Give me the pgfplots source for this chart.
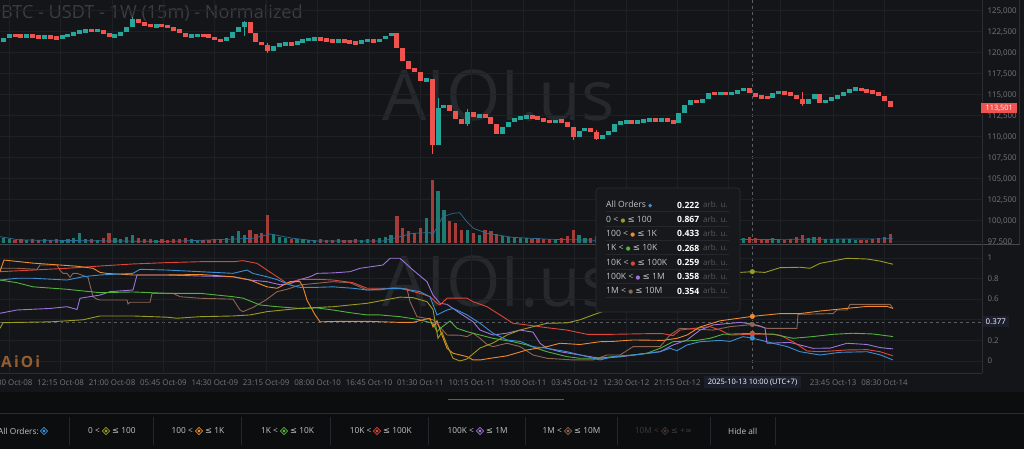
\documentclass[border=0pt]{standalone}
\usepackage{pgfplots}
\pgfplotsset{compat=1.18}
\usepackage{pgfplotstable}
\usepackage{fontspec}
\setmainfont{Open Sans}
\newfontfamily\symfont{DejaVu Sans}

\definecolor{bg}{HTML}{131518}
\definecolor{bgdark}{HTML}{0C0D0E}
\definecolor{gridc}{HTML}{1D2024}
\definecolor{sepc}{HTML}{2A2D31}
\definecolor{sepl}{HTML}{45484C}
\definecolor{tickc}{HTML}{74777C}
\definecolor{titlec}{HTML}{3A3D41}
\definecolor{wmc}{HTML}{25282C}
\definecolor{xh}{HTML}{5A5D62}
\definecolor{cup}{HTML}{26A69A}
\definecolor{cdn}{HTML}{EF5350}
\definecolor{vup}{HTML}{1F7A72}
\definecolor{vdn}{HTML}{A63C3A}
\definecolor{vma}{HTML}{2D6C96}
\definecolor{sAll}{HTML}{3B8FD4}
\definecolor{sA}{HTML}{9B9B22}
\definecolor{sB}{HTML}{F08A2C}
\definecolor{sC}{HTML}{52B33C}
\definecolor{sD}{HTML}{E0453A}
\definecolor{sE}{HTML}{9D74DA}
\definecolor{sF}{HTML}{8E6553}
\definecolor{tipbg}{HTML}{16181B}
\definecolor{tipbd}{HTML}{2C2F33}
\definecolor{tipsep}{HTML}{24272B}
\definecolor{legtxt}{HTML}{C3C5C8}
\definecolor{dimtxt}{HTML}{3A3C40}
\definecolor{arbc}{HTML}{55585D}
\definecolor{xhbox}{HTML}{1B1F2D}
\definecolor{logoc}{HTML}{965F32}

\newcommand\ticksize{\fontsize{7.9}{9}\selectfont}
\newcommand\tipsize{\fontsize{8.6}{10}\selectfont}
\newcommand\legsize{\fontsize{8.3}{10}\selectfont}
\newcommand\lte{{\symfont ≤}}
\newcommand\tdot[1]{{\symfont\fontsize{5.5}{5}\selectfont\textcolor{#1}{●}}}
\newcommand\tdia[1]{{\symfont\fontsize{5.5}{5}\selectfont\textcolor{#1}{◆}}}
\newcommand\legdia[2]{%
  \draw[#2, line width=0.7pt] (#1,21.6) -- (#1+3.6,18) -- (#1,14.4) -- (#1-3.6,18) -- cycle;
  \fill[#2] (#1,19.7) -- (#1+1.7,18) -- (#1,16.3) -- (#1-1.7,18) -- cycle;}

% hourly BTC-USDT candles (price in thousands), volume in bar height units
\pgfplotstableread{
t o c v
2 121.2 121.3 4
3 121.3 121.8 5
4 121.8 122.1 4
5 122.1 122.0 3
6 122.0 121.9 4
7 121.9 122.0 3
8 122.0 121.9 4
9 121.9 121.8 3
10 121.8 121.9 4
11 121.9 121.8 3
12 121.8 121.7 4
13 121.7 122.0 3
14 122.0 122.1 4
15 122.1 122.4 5
16 122.4 122.5 10
17 122.5 122.7 4
18 122.7 122.6 4
19 122.6 122.7 3
20 122.7 122.3 5
21 122.3 121.9 10
22 121.9 122.0 5
23 122.0 122.5 4
24 122.5 123.0 6
25 123.0 124.0 8
26 124.0 123.5 5
27 123.5 123.4 4
28 123.4 123.1 4
29 123.1 123.3 3
30 123.3 123.2 4
31 123.2 123.0 3
32 123.0 122.7 4
33 122.7 122.4 4
34 122.4 121.9 5
35 121.9 122.0 4
36 122.0 122.1 3
37 122.1 122.0 3
38 122.0 121.9 3
39 121.9 121.5 4
40 121.5 121.4 4
41 121.4 121.8 5
42 121.8 122.5 7
43 122.5 123.1 12
44 123.1 123.6 8
45 123.6 122.4 13
46 122.4 121.3 9
47 121.3 120.9 10
48 120.9 120.2 28
49 120.2 120.8 9
50 120.8 121.0 6
51 121.0 121.1 5
52 121.1 121.0 4
53 121.0 121.3 4
54 121.3 121.5 4
55 121.5 121.6 3
56 121.6 121.7 3
57 121.7 121.6 4
58 121.6 121.4 3
59 121.4 121.3 3
60 121.3 121.4 4
61 121.4 121.3 3
62 121.3 121.2 3
63 121.2 121.1 4
64 121.1 121.4 3
65 121.4 121.5 4
66 121.5 121.3 4
67 121.3 121.6 5
68 121.6 122.0 6
69 122.0 122.3 8
70 122.3 120.5 27
71 120.5 119.0 15
72 119.0 118.1 12
73 118.1 117.7 10
74 117.7 116.6 15
75 116.6 116.9 25
76 116.9 109.0 63
77 109.0 113.4 52
78 113.4 113.8 33
79 113.8 113.0 22
80 113.0 112.1 20
81 112.1 111.5 13
82 111.5 112.9 13
83 112.9 112.3 10
84 112.3 112.6 8
85 112.6 112.4 13
86 112.4 111.5 12
87 111.5 110.3 9
88 110.3 111.2 7
89 111.2 111.8 6
90 111.8 112.1 6
91 112.1 112.3 5
92 112.3 112.4 5
93 112.4 112.3 4
94 112.3 112.1 5
95 112.1 111.9 4
96 111.9 111.7 4
97 111.7 111.9 4
98 111.9 111.8 5
99 111.8 111.2 7
100 111.2 110.0 13
101 110.0 110.7 8
102 110.7 111.0 5
103 111.0 110.6 5
104 110.6 109.7 7
105 109.7 110.2 5
106 110.2 110.6 4
107 110.6 111.5 5
108 111.5 111.7 4
109 111.7 111.8 3
110 111.8 111.7 4
111 111.7 111.8 3
112 111.8 111.9 3
113 111.9 112.0 3
114 112.0 111.9 4
115 111.9 112.0 3
116 112.0 111.9 3
117 111.9 111.6 4
118 111.6 112.8 8
119 112.8 113.8 6
120 113.8 114.4 5
121 114.4 114.0 4
122 114.0 114.5 5
123 114.5 115.2 6
124 115.2 115.1 4
125 115.1 115.2 4
126 115.2 115.1 3
127 115.1 115.2 4
128 115.2 115.4 4
129 115.4 115.8 5
130 115.8 115.2 6
131 115.2 114.8 5
132 114.8 114.7 4
133 114.7 114.6 4
134 114.6 115.2 5
135 115.2 115.3 4
136 115.3 115.1 3
137 115.1 115.0 4
138 115.0 114.5 6
139 114.5 113.9 8
140 113.9 114.5 5
141 114.5 115.1 6
142 115.1 114.0 6
143 114.0 114.4 4
144 114.4 114.6 4
145 114.6 114.8 4
146 114.8 115.3 4
147 115.3 115.6 4
148 115.6 115.7 3
149 115.7 115.5 3
150 115.5 115.4 3
151 115.4 115.2 4
152 115.2 114.9 5
153 114.9 114.3 6
154 114.3 113.5 9
}\price

\pgfplotsset{panel/.style={
  anchor=south west, scale only axis, width=982pt, xmin=1.93, xmax=169.1,
  axis line style={draw=none}, major tick length=0pt,
  grid=major, grid style={draw=gridc, line width=0.7pt},
  xtick={3.5,12.25,21,29.75,38.5,47.25,56,64.75,73.5,82.25,91,99.75,108.5,117.25,126,134.75,143.75,152.5},
  yticklabel pos=right,
  tick label style={font=\ticksize, text=tickc},
  yticklabel style={anchor=west, xshift=2pt},
}}

\begin{document}
\begin{tikzpicture}[x=1pt,y=1pt]
\fill[bg] (0,0) rectangle (1024,449);
\fill[bgdark] (0,0) rectangle (1024,57);
\draw[sepc, line width=0.6pt] (0,36) -- (1024,36);

% title and watermarks
\node[anchor=base west, inner sep=0, text=titlec, font=\fontsize{18.1}{20}\selectfont] at (1,430.5) {BTC - USDT - 1W (15m) - Normalized};
\node[anchor=base west, inner sep=0, text=wmc, font=\fontsize{70}{70}\selectfont] at (382,328) {AIOI.us};
\node[anchor=base west, inner sep=0, text=wmc, font=\fontsize{70}{70}\selectfont] at (382,142) {AIOI.us};

% crosshair
\draw[xh, line width=0.6pt, dash pattern=on 3pt off 3pt] (752.3,449) -- (752.3,77);
\draw[xh, line width=0.6pt, dash pattern=on 3pt off 3pt] (0,127) -- (982,127);

% price panel
\begin{axis}[panel, at={(0pt,204.5pt)}, height=244.5pt,
  ymin=97.17, ymax=126.27,
  ytick={97.5,100,102.5,105,107.5,110,112.5,115,117.5,120,122.5,125},
  yticklabels={{97,500},{100,000},{102,500},{105,000},{107,500},{110,000},{112,500},{115,000},{117,500},{120,000},{122,500},{125,000}},
  xticklabel style={text opacity=0},
]
\addplot[draw=none, forget plot, error bars/.cd, y dir=both, y explicit, error mark=none,
  error bar style={draw=cdn, line width=0.8pt}]
  coordinates {(75.5,112.4) +- (0,4.5) (47.5,120.6) +- (0,0.6) (99.5,110.4) +- (0,0.8) (103.5,110.2) +- (0,0.6) (138.5,114.5) +- (0,0.8)};
\addplot[draw=none, forget plot, error bars/.cd, y dir=both, y explicit, error mark=none,
  error bar style={draw=cup, line width=0.8pt}]
  coordinates {(76.5,111.8) +- (0,2.8) (43.5,122.9) +- (0,0.9) (24.5,123.6) +- (0,0.6) (81.5,112.3) +- (0,1.0)};
\addplot[draw=none, forget plot, restrict y to domain=90:130,
  error bars/.cd, y dir=both, y explicit, error mark=none,
  error bar style={draw=cup, line width=5pt}]
  table[x expr=\thisrow{t}-0.5, y expr={\thisrow{c}>=\thisrow{o} ? (\thisrow{o}+\thisrow{c})/2 : 0},
        y error expr={max(abs(\thisrow{c}-\thisrow{o})/2,0.22)}] {\price};
\addplot[draw=none, forget plot, restrict y to domain=90:130,
  error bars/.cd, y dir=both, y explicit, error mark=none,
  error bar style={draw=cdn, line width=5pt}]
  table[x expr=\thisrow{t}-0.5, y expr={\thisrow{c}<\thisrow{o} ? (\thisrow{o}+\thisrow{c})/2 : 0},
        y error expr={max(abs(\thisrow{c}-\thisrow{o})/2,0.22)}] {\price};
\end{axis}

% volume overlay
\begin{axis}[anchor=south west, at={(0pt,205.7pt)}, scale only axis, width=982pt, height=243.3pt,
  xmin=1.93, xmax=169.1, ymin=0, ymax=243.3, hide axis]
\addplot[ycomb, draw=vup, line width=3.2pt] table[x expr=\thisrow{t}-0.5, y expr={\thisrow{c}>=\thisrow{o} ? \thisrow{v} : 0}] {\price};
\addplot[ycomb, draw=vdn, line width=3.2pt] table[x expr=\thisrow{t}-0.5, y expr={\thisrow{c}<\thisrow{o} ? \thisrow{v} : 0}] {\price};
\addplot[vma, line width=0.7pt] coordinates {(1.93,6.6)(5.3,3.3)(15.55,2.7)(30.36,1.8)(45.0,5)(47.9,9.3)(51.8,5)(55.9,2.3)(67.1,2.3)(70.0,6.6)(72.2,10)(75.1,10.7)(75.6,8.3)(77.3,26.6)(79.05,30)(80.2,30.6)(81.4,21.6)(82.5,15)(84.8,10)(89.1,6)(95.6,4)(104.1,3)(121.1,3.5)(138.1,4)(153.95,4.5)};
\end{axis}

% normalized order-size panel
\begin{axis}[panel, at={(0pt,77pt)}, height=127.5pt,
  ymin=-0.107, ymax=1.131,
  ytick={0,0.2,0.4,0.6,0.8,1}, yticklabels={0,0.2,{},0.6,0.8,1},
  xticklabels={03:30 Oct-08,12:15 Oct-08,21:00 Oct-08,05:45 Oct-09,14:30 Oct-09,23:15 Oct-09,08:00 Oct-10,16:45 Oct-10,01:30 Oct-11,10:15 Oct-11,19:00 Oct-11,03:45 Oct-12,12:30 Oct-12,21:15 Oct-12,{},{},23:45 Oct-13,08:30 Oct-14},
  xticklabel style={anchor=base, yshift=-13.5pt},
]
\addplot[sF, line width=0.9pt] coordinates {(1.93,0.90)(4.82,0.90)(8.23,0.89)(8.74,0.932)(11.63,0.932)(12.14,0.88)(12.66,0.851)(13.34,0.851)(13.85,0.812)(14.36,0.851)(15.04,0.851)(16.91,0.812)(17.42,0.70)(17.76,0.624)(18.44,0.60)(18.95,0.592)(23.55,0.592)(23.72,0.553)(24.06,0.57)(27.47,0.57)(27.81,0.657)(31.38,0.657)(32.57,0.624)(35.98,0.609)(41.60,0.60)(42.79,0.495)(43.30,0.479)(45.0,0.52)(46.70,0.576)(47.38,0.60)(49.09,0.673)(50.79,0.696)(53.00,0.738)(58.62,0.77)(61.51,0.76)(64.41,0.689)(66.62,0.69)(68.83,0.71)(71.22,0.70)(71.73,0.576)(72.92,0.43)(73.94,0.42)(75.64,0.40)(76.49,0.35)(78.03,0.252)(80.24,0.25)(81.43,0.236)(82.45,0.27)(83.65,0.22)(84.84,0.16)(85.86,0.139)(88.24,0.172)(90.45,0.14)(92.67,0.058)(95.05,0.026)(99.48,0.01)(102.88,0.01)(105.26,0.058)(107.48,0.058)(109.69,0.139)(114.29,0.139)(115.99,0.252)(117.69,0.317)(123.31,0.30)(126.21,0.333)(130,0.354)(132.50,0.317)(137.59,0.317)(137.78,0.453)(143.74,0.46)(144.42,0.495)(146.12,0.495)(146.63,0.55)(153.44,0.55)(153.95,0.51)};
\addplot[sE, line width=0.9pt] coordinates {(1.93,0.463)(4.82,0.495)(10.44,0.51)(13.34,0.527)(15.04,0.50)(15.55,0.609)(18.95,0.64)(20.66,0.673)(24.57,0.689)(25.25,0.835)(30.36,0.835)(35.98,0.825)(41.60,0.818)(44.49,0.786)(47.38,0.77)(49.60,0.74)(51.30,0.75)(53.00,0.79)(54.70,0.818)(55.90,0.851)(58.62,0.855)(61.51,0.867)(63.22,0.90)(67.13,0.932)(68.32,0.997)(70.03,0.997)(72.24,0.883)(74.62,0.77)(75.64,0.64)(76.84,0.56)(78.03,0.55)(80.24,0.463)(82.45,0.382)(83.65,0.30)(85.86,0.252)(88.24,0.27)(90.45,0.30)(92.67,0.28)(93.86,0.172)(95.05,0.123)(97.26,0.09)(100.67,0.058)(104.07,0.026)(107.48,0.04)(110.88,0.065)(114.29,0.09)(116.50,0.155)(118.88,0.204)(121.10,0.30)(123.31,0.35)(127.91,0.375)(130,0.358)(131.31,0.34)(132.16,0.32)(132.50,0.172)(136.42,0.18)(140.33,0.123)(143.23,0.125)(146.12,0.172)(149.53,0.16)(151.74,0.13)(153.95,0.117)};
\addplot[sD, line width=0.9pt] coordinates {(1.93,0.867)(7.55,0.883)(13.34,0.90)(18.95,0.922)(24.57,0.942)(30.36,0.955)(35.98,0.964)(41.60,0.964)(43.30,0.974)(45.68,0.948)(47.38,0.883)(49.09,0.818)(50.79,0.754)(53.00,0.793)(55.90,0.793)(58.62,0.786)(62.02,0.76)(64.41,0.706)(70.03,0.706)(73.43,0.657)(75.13,0.624)(76.32,0.56)(76.84,0.544)(78.03,0.61)(81.43,0.61)(82.45,0.576)(84.84,0.527)(87.05,0.447)(89.26,0.366)(91.64,0.35)(95.05,0.323)(98.45,0.30)(101.86,0.259)(106.29,0.259)(112.07,0.265)(114.80,0.265)(116.50,0.246)(117.69,0.30)(120.59,0.32)(122.80,0.333)(124.50,0.30)(126.21,0.252)(130,0.259)(133.52,0.26)(134.72,0.25)(136.93,0.187)(139.31,0.097)(141.53,0.09)(146.12,0.107)(149.53,0.11)(151.74,0.09)(153.95,0.05)};
\addplot[sC, line width=0.9pt] coordinates {(1.93,0.786)(4.82,0.76)(7.55,0.72)(13.34,0.696)(16.06,0.68)(18.95,0.663)(24.57,0.67)(30.36,0.657)(35.98,0.657)(38.87,0.64)(41.60,0.624)(43.30,0.61)(46.19,0.544)(49.09,0.527)(53.00,0.51)(55.90,0.515)(58.62,0.495)(61.51,0.469)(64.41,0.447)(66.62,0.447)(70.03,0.43)(73.43,0.40)(75.64,0.366)(76.32,0.285)(77.17,0.33)(78.03,0.366)(78.54,0.388)(79.73,0.317)(81.43,0.285)(83.65,0.252)(85.86,0.22)(89.26,0.187)(91.64,0.155)(95.05,0.09)(98.45,0.042)(100.67,0.026)(103.56,0.026)(106.29,0.042)(109.69,0.058)(112.07,0.075)(114.29,0.123)(116.50,0.187)(120.59,0.2)(122.80,0.22)(125.01,0.259)(130,0.268)(133.52,0.26)(136.93,0.22)(140.33,0.237)(143.74,0.259)(147.14,0.269)(150.55,0.262)(153.95,0.237)};
\addplot[sB, line width=0.9pt] coordinates {(1.93,0.87)(2.61,0.98)(7.55,0.95)(15.04,0.92)(17.76,0.90)(18.95,0.86)(20.15,0.85)(24.57,0.835)(30.36,0.835)(35.98,0.84)(41.60,0.818)(44.49,0.786)(47.38,0.72)(49.09,0.706)(51.30,0.77)(53.00,0.77)(53.51,0.72)(54.19,0.59)(55.55,0.45)(56.41,0.38)(59.81,0.385)(64.41,0.385)(70.03,0.375)(72.24,0.375)(73.94,0.40)(75.13,0.414)(75.64,0.33)(76.32,0.39)(77.17,0.25)(78.03,0.123)(79.05,0.075)(81.43,0.042)(82.45,0.01)(83.65,0.01)(85.86,0.03)(88.24,0.05)(91.64,0.107)(95.05,0.139)(97.26,0.172)(100.67,0.16)(104.07,0.187)(106.29,0.19)(109.69,0.204)(114.80,0.20)(117.18,0.22)(118.88,0.252)(121.10,0.33)(124.50,0.39)(130,0.433)(134.72,0.46)(138.12,0.46)(141.53,0.485)(146.12,0.511)(149.53,0.53)(152.93,0.53)(153.95,0.51)};
\addplot[sA, line width=0.9pt] coordinates {(1.93,0.317)(2.44,0.372)(10.44,0.38)(13.34,0.39)(16.06,0.40)(18.95,0.437)(24.57,0.437)(30.36,0.425)(32.06,0.415)(35.98,0.43)(41.60,0.437)(44.49,0.447)(47.38,0.479)(53.00,0.511)(58.62,0.527)(64.41,0.56)(70.03,0.62)(72.24,0.615)(74.62,0.576)(75.64,0.5)(76.49,0.22)(77.17,0.28)(78.03,0.155)(79.05,0.026)(80.24,0.0)(81.43,0.02)(83.65,0.126)(85.86,0.175)(88.24,0.252)(90.45,0.30)(92.67,0.333)(95.05,0.366)(98.45,0.37)(100.67,0.40)(102.88,0.447)(105.26,0.495)(107.48,0.55)(112.59,0.65)(117.69,0.74)(122.80,0.81)(127.91,0.86)(130,0.867)(132.16,0.86)(134.72,0.906)(138.12,0.91)(139.82,0.9)(141.53,0.948)(146.12,0.997)(149.53,0.99)(151.74,0.97)(153.95,0.939)};
\addplot[sAll, line width=0.9pt] coordinates {(1.93,0.786)(4.82,0.803)(7.55,0.803)(13.34,0.786)(16.06,0.818)(18.95,0.835)(24.57,0.851)(25.76,0.89)(30.36,0.883)(35.98,0.867)(41.60,0.851)(43.98,0.883)(45.0,0.85)(47.38,0.818)(49.09,0.79)(51.30,0.738)(53.00,0.715)(55.90,0.715)(58.62,0.72)(62.02,0.706)(64.41,0.689)(67.13,0.70)(70.03,0.706)(73.43,0.673)(75.13,0.624)(76.32,0.447)(78.03,0.495)(79.05,0.51)(80.24,0.48)(81.43,0.447)(83.65,0.366)(85.86,0.269)(88.24,0.204)(90.45,0.19)(92.67,0.139)(95.05,0.123)(98.45,0.09)(101.86,0.042)(104.07,0.01)(106.29,0.042)(109.69,0.058)(112.07,0.075)(114.29,0.09)(115.99,0.123)(117.18,0.10)(118.88,0.155)(121.10,0.187)(124.50,0.2)(126.21,0.19)(128.42,0.236)(130,0.222)(133.52,0.172)(135.91,0.14)(138.12,0.09)(141.53,0.058)(144.93,0.084)(149.53,0.09)(151.74,0.06)(153.95,0.01)};
% crosshair markers at 2025-10-13 10:00
\addplot[only marks, mark=*, mark size=2.3pt, color=sA] coordinates {(130,0.867)};
\addplot[only marks, mark=*, mark size=2.3pt, color=sB] coordinates {(130,0.433)};
\addplot[only marks, mark=*, mark size=2.3pt, color=sF] coordinates {(130,0.354)};
\addplot[only marks, mark=*, mark size=2.3pt, color=sC] coordinates {(130,0.268)};
\addplot[only marks, mark=*, mark size=2.3pt, color=sD] coordinates {(130,0.259)};
\addplot[only marks, mark=*, mark size=2.3pt, color=sAll] coordinates {(130,0.222)};
\end{axis}

% AiOi logo
\node[anchor=base west, inner sep=0, text=logoc, font=\fontsize{15.5}{16}\bfseries\selectfont\addfontfeature{LetterSpace=14}] at (1,81.5) {AiOi};

% separators
\draw[sepl, line width=0.8pt] (0,204.5) -- (1020,204.5);
\draw[sepc, line width=0.6pt] (982,449) -- (982,76);
\draw[sepc, line width=0.6pt] (1019.5,449) -- (1019.5,204.5);
\draw[sepc, line width=0.6pt] (0,76) -- (982,76);

% right side value labels
\node[fill=cdn, text=white, inner sep=0, minimum width=36pt, minimum height=10pt, anchor=west, font=\fontsize{7.4}{8}\selectfont] at (981,341) {113,501};
\node[fill=xhbox, text=white, inner sep=0, minimum width=26pt, minimum height=11pt, anchor=west, font=\ticksize] at (982.5,127) {0.377};
\node[fill=xhbox, text=white, inner sep=0, minimum width=97pt, minimum height=12pt, font=\fontsize{7.5}{9}\selectfont] at (752.5,66.5) {2025-10-13 10:00 (UTC+7)};

% tooltip
\draw[fill=tipbg, draw=tipbd, line width=0.6pt, rounded corners=3pt] (596,261) rectangle (740,137);
\foreach \yy in {237.3,223,208.7,194.4,180,165.7,151.3} {\draw[tipsep, line width=0.6pt] (606,\yy) -- (729,\yy);}
\begin{scope}[every node/.style={inner sep=0, font=\tipsize}]
\node[anchor=west, text=legtxt] at (606,244) {All Orders \tdia{sAll}};
\node[anchor=west, text=legtxt] at (606,229.7) {0 < \tdot{sA} \lte{} 100};
\node[anchor=west, text=legtxt] at (606,215.3) {100 < \tdot{sB} \lte{} 1K};
\node[anchor=west, text=legtxt] at (606,201) {1K < \tdot{sC} \lte{} 10K};
\node[anchor=west, text=legtxt] at (606,186.7) {10K < \tdot{sD} \lte{} 100K};
\node[anchor=west, text=legtxt] at (606,172.3) {100K < \tdot{sE} \lte{} 1M};
\node[anchor=west, text=legtxt] at (606,158) {1M < \tdot{sF} \lte{} 10M};
\foreach \yy/\vv in {244/0.222,229.7/0.867,215.3/0.433,201/0.268,186.7/0.259,172.3/0.358,158/0.354} {
  \node[anchor=east, text=white, font=\tipsize\bfseries] at (699.5,\yy) {\vv};
  \node[anchor=west, text=arbc, font=\fontsize{8}{9}\selectfont] at (703,\yy) {arb. u.};
}
\end{scope}

% bottom legend bar
\draw[xh, line width=1pt] (448,49) -- (564,49);
\foreach \xx in {69,153,241,330,428,525,617,710,775} {\draw[tipsep, line width=0.6pt] (\xx,32) -- (\xx,4);}
\begin{scope}[every node/.style={inner sep=0, font=\legsize, text=legtxt}]
\node[anchor=west] at (-2,18) {All Orders:};
\legdia{44}{sAll}
\node[anchor=east] at (100,18) {0 <}; \legdia{106}{sA} \node[anchor=west] at (112,18) {\lte{} 100};
\node[anchor=east] at (193,18) {100 <}; \legdia{199}{sB} \node[anchor=west] at (205,18) {\lte{} 1K};
\node[anchor=east] at (278,18) {1K <}; \legdia{284}{sC} \node[anchor=west] at (290,18) {\lte{} 10K};
\node[anchor=east] at (371.5,18) {10K <}; \legdia{377}{sD} \node[anchor=west] at (383,18) {\lte{} 100K};
\node[anchor=east] at (474,18) {100K <}; \legdia{480}{sE} \node[anchor=west] at (486,18) {\lte{} 1M};
\node[anchor=east] at (562,18) {1M <}; \legdia{568}{sF} \node[anchor=west] at (574,18) {\lte{} 10M};
\node[anchor=east, text=dimtxt] at (659,18) {10M <}; \legdia{665}{sF!45!bgdark} \node[anchor=west, text=dimtxt] at (671,18) {\lte{} +{\symfont ∞}};
\node[anchor=west] at (728,18) {Hide all};
\end{scope}

\pgfresetboundingbox
\path[use as bounding box] (0,0) rectangle (1024,449);
\end{tikzpicture}
\end{document}
